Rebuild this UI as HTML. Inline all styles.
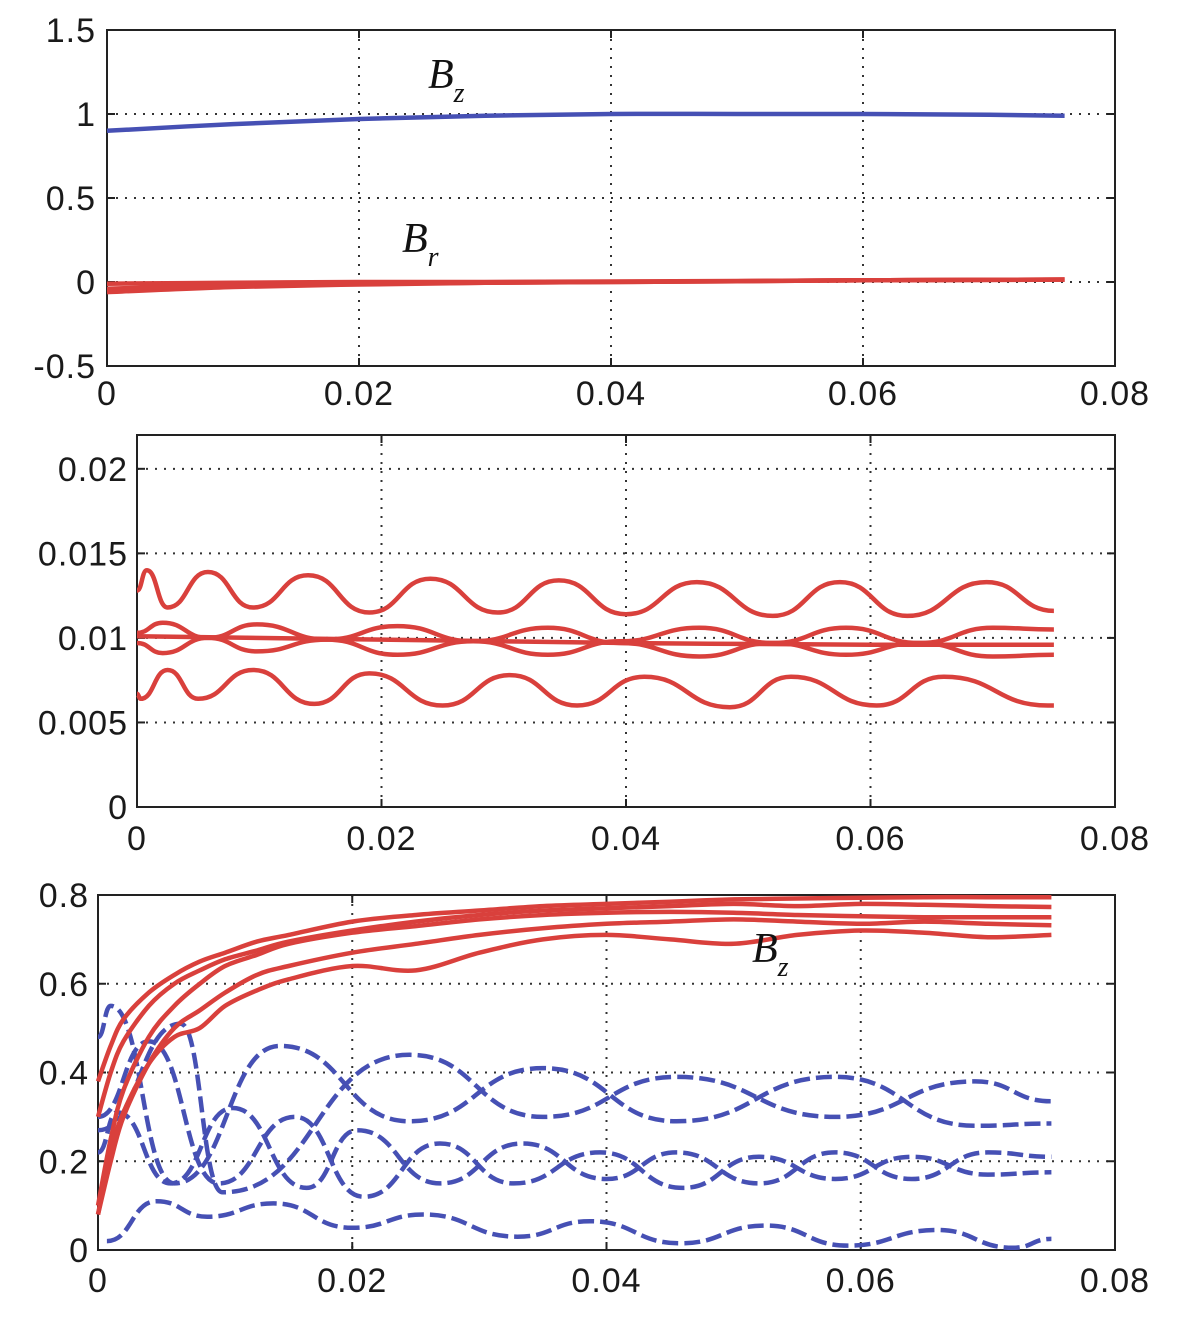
<!DOCTYPE html>
<html><head><meta charset="utf-8"><style>
html,body{margin:0;padding:0;background:#fff;}
svg{display:block;}
.tk{font-family:"Liberation Sans",sans-serif;font-size:34px;letter-spacing:1px;fill:#1a1a1a;}
.lbl{font-family:"Liberation Serif",serif;font-style:italic;fill:#111;}
</style></head><body>
<svg id="fig" width="1182" height="1322" viewBox="0 0 1182 1322" xmlns="http://www.w3.org/2000/svg"></svg>
<script>
// ---------- Panel 1 data ----------
const p1X = [0, 0.01, 0.02, 0.03, 0.04, 0.05, 0.06, 0.07, 0.076];
const p1Bz = [0.90, 0.94, 0.97, 0.99, 1.0, 1.0, 1.0, 0.995, 0.99];
const p1Br1 = [-0.01, -0.005, 0, 0, 0.003, 0.006, 0.01, 0.013, 0.015];
const p1Br2 = [-0.04, -0.02, -0.01, -0.005, 0, 0.005, 0.01, 0.013, 0.015];
const p1Br3 = [-0.06, -0.03, -0.015, -0.005, 0, 0.005, 0.01, 0.012, 0.014];
const p1YTicks = [1.5, 1, 0.5, 0, -0.5];
const p1YLabels = ["1.5", "1", "0.5", "0", "-0.5"];
const xTicks = [0, 0.02, 0.04, 0.06, 0.08];
const xLabels = ["0", "0.02", "0.04", "0.06", "0.08"];

// ---------- Panel 2 data (extrema points) ----------
const p2TopX = [0, 0.0008, 0.0025, 0.0058, 0.0095, 0.014, 0.019, 0.024, 0.0295, 0.0345, 0.040, 0.0458, 0.052, 0.0575, 0.063, 0.0695, 0.075];
const p2TopY = [0.0128, 0.0140, 0.0118, 0.0139, 0.0118, 0.0137, 0.0115, 0.0135, 0.0115, 0.0134, 0.0114, 0.0133, 0.0113, 0.0133, 0.0113, 0.0133, 0.0116];
const p2BotX = [0, 0.0003, 0.0025, 0.005, 0.0095, 0.0145, 0.019, 0.025, 0.0305, 0.036, 0.0415, 0.0485, 0.0535, 0.0605, 0.066, 0.0745, 0.075];
const p2BotY = [0.0067, 0.0064, 0.0081, 0.0064, 0.0081, 0.0061, 0.0079, 0.0060, 0.0078, 0.0060, 0.0077, 0.0059, 0.0077, 0.0060, 0.0077, 0.0060, 0.0060];
const p2MidX = [0, 0.02, 0.04, 0.06, 0.075];
const p2MidY = [0.0101, 0.0099, 0.0097, 0.0096, 0.0096];
const p2LensAX = [0, 0.0021, 0.0058, 0.0098, 0.0155, 0.0213, 0.0275, 0.0336, 0.0395, 0.046, 0.052, 0.058, 0.064, 0.070, 0.075];
const p2LensAY = [0.0103, 0.0109, 0.0100, 0.0092, 0.0099, 0.0107, 0.0098, 0.0090, 0.0098, 0.0106, 0.0097, 0.0090, 0.0097, 0.0106, 0.0105];
const p2LensBX = [0, 0.0021, 0.0058, 0.0098, 0.0155, 0.0213, 0.0275, 0.0336, 0.0395, 0.046, 0.052, 0.058, 0.064, 0.070, 0.075];
const p2LensBY = [0.0097, 0.0091, 0.0100, 0.0108, 0.0099, 0.0090, 0.0098, 0.0106, 0.0097, 0.0089, 0.0097, 0.0106, 0.0097, 0.0089, 0.0090];
const p2YTicks = [0.02, 0.015, 0.01, 0.005, 0];
const p2YLabels = ["0.02", "0.015", "0.01", "0.005", "0"];

// ---------- Panel 3 data ----------
const p3X = [0, 0.001, 0.002, 0.004, 0.006, 0.008, 0.01, 0.0125, 0.015, 0.02, 0.025, 0.03, 0.035, 0.04, 0.045, 0.05, 0.055, 0.06, 0.065, 0.07, 0.075];
const p3R1 = [0.38, 0.46, 0.52, 0.58, 0.62, 0.65, 0.67, 0.695, 0.71, 0.74, 0.755, 0.765, 0.775, 0.78, 0.785, 0.79, 0.792, 0.794, 0.795, 0.795, 0.795];
const p3R2 = [0.30, 0.40, 0.47, 0.55, 0.60, 0.63, 0.655, 0.675, 0.695, 0.72, 0.74, 0.755, 0.765, 0.77, 0.775, 0.78, 0.775, 0.78, 0.778, 0.775, 0.773];
const p3R3 = [0.10, 0.25, 0.36, 0.48, 0.55, 0.60, 0.64, 0.665, 0.69, 0.715, 0.73, 0.745, 0.755, 0.76, 0.762, 0.76, 0.755, 0.752, 0.75, 0.75, 0.75];
const p3R4 = [0.08, 0.22, 0.31, 0.42, 0.48, 0.50, 0.55, 0.585, 0.61, 0.64, 0.63, 0.67, 0.70, 0.71, 0.70, 0.69, 0.71, 0.72, 0.715, 0.705, 0.71];
const p3R5 = [0.08, 0.20, 0.30, 0.42, 0.50, 0.54, 0.58, 0.62, 0.64, 0.67, 0.69, 0.71, 0.725, 0.735, 0.74, 0.745, 0.74, 0.735, 0.74, 0.735, 0.732];
const p3UaX = [0, 0.001, 0.006, 0.0143, 0.0245, 0.035, 0.0455, 0.058, 0.069, 0.075];
const p3UaY = [0.48, 0.55, 0.15, 0.46, 0.29, 0.41, 0.29, 0.39, 0.28, 0.285];
const p3UbX = [0, 0.0065, 0.0098, 0.0245, 0.035, 0.0455, 0.058, 0.069, 0.075];
const p3UbY = [0.27, 0.51, 0.13, 0.44, 0.30, 0.39, 0.30, 0.38, 0.335];
const p3LaX = [0, 0.0015, 0.0057, 0.0106, 0.0164, 0.0204, 0.0269, 0.0334, 0.040, 0.0455, 0.052, 0.058, 0.064, 0.070, 0.075];
const p3LaY = [0.22, 0.31, 0.15, 0.32, 0.14, 0.27, 0.15, 0.24, 0.16, 0.22, 0.15, 0.22, 0.16, 0.22, 0.21];
const p3LbX = [0, 0.004, 0.0095, 0.0155, 0.0209, 0.0269, 0.0327, 0.0395, 0.046, 0.052, 0.058, 0.064, 0.070, 0.075];
const p3LbY = [0.30, 0.47, 0.15, 0.30, 0.12, 0.24, 0.15, 0.22, 0.14, 0.21, 0.16, 0.21, 0.17, 0.175];
const p3BotX = [0.0007, 0.0046, 0.0086, 0.0138, 0.020, 0.0256, 0.033, 0.0387, 0.0458, 0.0525, 0.059, 0.066, 0.072, 0.075];
const p3BotY = [0.02, 0.11, 0.075, 0.105, 0.05, 0.08, 0.03, 0.065, 0.015, 0.055, 0.01, 0.045, 0.005, 0.025];
const p3YTicks = [0.8, 0.6, 0.4, 0.2, 0];
const p3YLabels = ["0.8", "0.6", "0.4", "0.2", "0"];

const NS = "http://www.w3.org/2000/svg";
const svg = document.getElementById("fig");
function mk(tag, attrs, parent) {
  const e = document.createElementNS(NS, tag);
  for (const k in attrs) e.setAttribute(k, attrs[k]);
  (parent || svg).appendChild(e);
  return e;
}
function makeAxes(x0, x1, y0, y1, xmin, xmax, ymin, ymax) {
  return {
    sx: v => x0 + (v - xmin) / (xmax - xmin) * (x1 - x0),
    sy: v => y1 - (v - ymin) / (ymax - ymin) * (y1 - y0),
    x0, x1, y0, y1
  };
}
function catmull(ax, xs, ys) {
  const p = xs.map((x, i) => [ax.sx(x), ax.sy(ys[i])]);
  let d = "M" + p[0][0].toFixed(1) + "," + p[0][1].toFixed(1);
  for (let i = 0; i < p.length - 1; i++) {
    const a = p[Math.max(0, i - 1)], b = p[i], c = p[i + 1], e = p[Math.min(p.length - 1, i + 2)];
    const c1 = [b[0] + (c[0] - a[0]) / 6, b[1] + (c[1] - a[1]) / 6];
    const c2 = [c[0] - (e[0] - b[0]) / 6, c[1] - (e[1] - b[1]) / 6];
    d += "C" + c1.map(v => v.toFixed(1)).join(",") + " " + c2.map(v => v.toFixed(1)).join(",") + " " + c[0].toFixed(1) + "," + c[1].toFixed(1);
  }
  return d;
}
function extrema(ax, xs, ys) {
  const p = xs.map((x, i) => [ax.sx(x), ax.sy(ys[i])]);
  let d = "M" + p[0][0].toFixed(1) + "," + p[0][1].toFixed(1);
  for (let i = 0; i < p.length - 1; i++) {
    const b = p[i], c = p[i + 1], h = (c[0] - b[0]) / 2;
    d += "C" + (b[0] + h).toFixed(1) + "," + b[1].toFixed(1) + " " + (c[0] - h).toFixed(1) + "," + c[1].toFixed(1) + " " + c[0].toFixed(1) + "," + c[1].toFixed(1);
  }
  return d;
}
function frame(ax, name, yTicks, yLabels, yLabelX, xLabelY) {
  const g = mk("g", {});
  
  
  xTicks.forEach((t, i) => {
    const x = ax.sx(t);
    if (i > 0 && i < xTicks.length - 1) {
      const gl = mk("line", {x1: x, x2: x, y1: ax.y0, y2: ax.y1, stroke: "#333", "stroke-width": 2, "stroke-dasharray": "2 7"}, g);
      
      
    }
    mk("line", {x1: x, x2: x, y1: ax.y1, y2: ax.y1 - 8, stroke: "#222", "stroke-width": 2}, g);
    mk("line", {x1: x, x2: x, y1: ax.y0, y2: ax.y0 + 8, stroke: "#222", "stroke-width": 2}, g);
    const tx = mk("text", {x: x, y: xLabelY, class: "tk", "text-anchor": "middle"}, g);
    tx.textContent = xLabels[i];
    
    
  });
  yTicks.forEach((t, i) => {
    const y = ax.sy(t);
    if (i > 0 && i < yTicks.length - 1 || (y > ax.y0 + 5 && y < ax.y1 - 5)) {
      const gl = mk("line", {x1: ax.x0, x2: ax.x1, y1: y, y2: y, stroke: "#333", "stroke-width": 2, "stroke-dasharray": "2 7"}, g);
      
      
    }
    mk("line", {x1: ax.x0, x2: ax.x0 + 8, y1: y, y2: y, stroke: "#222", "stroke-width": 2}, g);
    mk("line", {x1: ax.x1, x2: ax.x1 - 8, y1: y, y2: y, stroke: "#222", "stroke-width": 2}, g);
    const ty = mk("text", {x: yLabelX, y: y + 12, class: "tk", "text-anchor": "end"}, g);
    ty.textContent = yLabels[i];
    
    
  });
  const r = mk("rect", {x: ax.x0, y: ax.y0, width: ax.x1 - ax.x0, height: ax.y1 - ax.y0, fill: "none", stroke: "#222", "stroke-width": 2}, g);
  
  
}
function line(d, color, name, dash) {
  const p = mk("path", {d: d, fill: "none", stroke: color, "stroke-width": 4.5, "stroke-linejoin": "round"});
  if (dash) p.setAttribute("stroke-dasharray", dash);
  
  
}
function label(x, y, main, sub, name) {
  const t = mk("text", {x: x, y: y, class: "lbl", "font-size": 42});
  
  
  const a = mk("tspan", {}, t); a.textContent = main;
  const b = mk("tspan", {dy: 14, "font-size": 28}, t); b.textContent = sub;
}
const RED = "#d9403c", BLUE = "#4650b4";

// Panel 1
const ax1 = makeAxes(107, 1115, 30, 366, 0, 0.08, -0.5, 1.5);
frame(ax1, "panel-1-axes", p1YTicks, p1YLabels, 96, 405);
line(catmull(ax1, p1X, p1Br3), RED, "br-series-3");
line(catmull(ax1, p1X, p1Br2), RED, "br-series-2");
line(catmull(ax1, p1X, p1Br1), RED, "br-series-1");
line(catmull(ax1, p1X, p1Bz), BLUE, "bz-series");
label(428, 88, "B", "z", "bz-label-top");
label(402, 252, "B", "r", "br-label");

// Panel 2
const ax2 = makeAxes(137, 1115, 435, 807, 0, 0.08, 0, 0.022);
frame(ax2, "panel-2-axes", p2YTicks, p2YLabels, 128, 850);
line(extrema(ax2, p2TopX, p2TopY), RED, "br-upper-series");
line(extrema(ax2, p2BotX, p2BotY), RED, "br-lower-series");
line(catmull(ax2, p2MidX, p2MidY), RED, "br-center-series");
line(extrema(ax2, p2LensAX, p2LensAY), RED, "br-lens-a-series");
line(extrema(ax2, p2LensBX, p2LensBY), RED, "br-lens-b-series");

// Panel 3
const ax3 = makeAxes(98, 1115, 895, 1250, 0, 0.08, 0, 0.8);
frame(ax3, "panel-3-axes", p3YTicks, p3YLabels, 89, 1292);
const dash = "16 6";
line(extrema(ax3, p3BotX, p3BotY), BLUE, "blue-bottom-series", dash);
line(extrema(ax3, p3LbX, p3LbY), BLUE, "blue-lower-b-series", dash);
line(extrema(ax3, p3LaX, p3LaY), BLUE, "blue-lower-a-series", dash);
line(extrema(ax3, p3UbX, p3UbY), BLUE, "blue-upper-b-series", dash);
line(extrema(ax3, p3UaX, p3UaY), BLUE, "blue-upper-a-series", dash);
[p3R1, p3R2, p3R3, p3R4, p3R5].forEach((s, i) => line(catmull(ax3, p3X, s), RED, "bz-red-series-" + (i + 1)));
label(752, 962, "B", "z", "bz-label-bottom");
</script>
</body></html>
